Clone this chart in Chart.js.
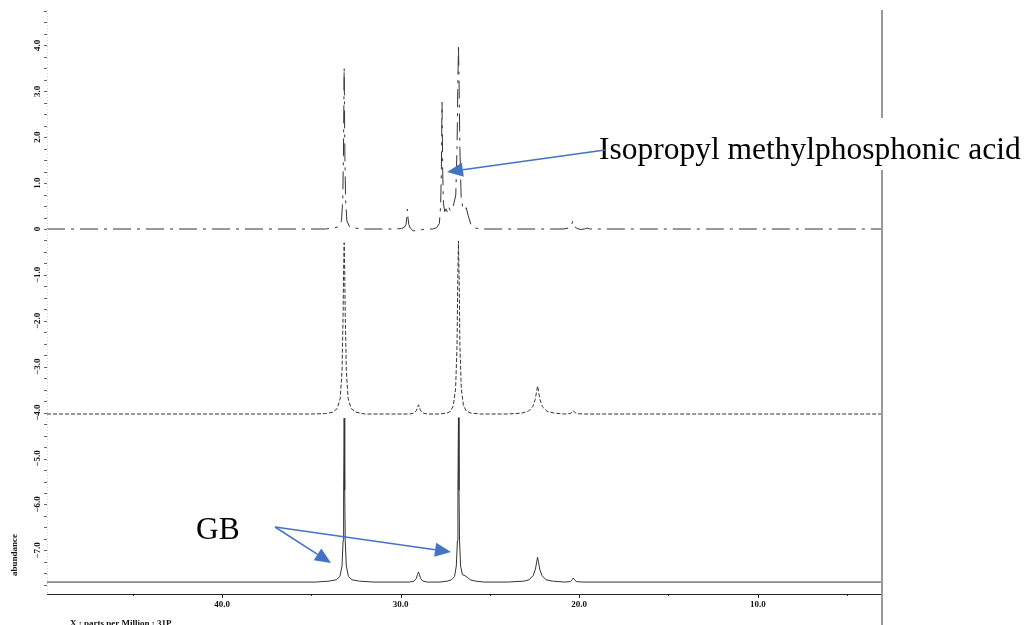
<!DOCTYPE html>
<html>
<head>
<meta charset="utf-8">
<script src="https://cdn.jsdelivr.net/npm/chart.js@4"></script>
<style>
  body { margin: 0; background: #fff; }
  #wrap { width: 1030px; height: 625px; }
</style>
</head>
<body>
<div id="wrap"><canvas id="nmr" width="1030" height="625"></canvas></div>
<script>
'use strict';

// 31P NMR, three stacked traces (ppm, abundance above each trace baseline)
var topPpm = [49.8, 34.2, 33.76, 33.46, 33.31, 33.24, 33.2, 33.16, 33.12, 33.08, 33.01, 32.86, 32.56, 32.1, 30.4, 29.95, 29.78, 29.7, 29.66, 29.62, 29.58, 29.54, 29.46, 29.3, 29.0, 28.6, 28.2, 27.98, 27.83, 27.76, 27.72, 27.68, 27.64, 27.6, 27.53, 27.45, 27.38, 27.3, 27.22, 27.14, 27.05, 26.91, 26.84, 26.8, 26.76, 26.72, 26.68, 26.61, 26.5, 26.4, 26.32, 26.22, 26.05, 25.8, 25.5, 24.5, 20.9, 20.6, 20.45, 20.4, 20.37, 20.33, 20.27, 20.15, 19.95, 19.7, 19.55, 19.4, 3.1];
var topAbund = [0, 0, 0.02, 0.05, 0.18, 0.64, 1.6, 3.52, 1.6, 0.64, 0.18, 0.05, 0.02, 0, 0, 0.01, 0.04, 0.1, 0.22, 0.43, 0.22, 0.1, 0.02, -0.04, -0.03, 0, 0, 0.03, 0.12, 0.5, 1.2, 2.76, 1.2, 0.55, 0.38, 0.44, 0.36, 0.47, 0.4, 0.42, 0.5, 0.74, 1.75, 3.0, 4.02, 3.0, 1.75, 0.7, 0.42, 0.45, 0.46, 0.3, 0.08, 0.02, 0, 0, 0, 0.02, 0.06, 0.12, 0.17, 0.12, 0.06, 0.02, -0.01, 0, 0.02, 0, 0];
var topBase = 0;

var midPpm = [49.8, 35.0, 34.2, 33.8, 33.55, 33.38, 33.28, 33.22, 33.19, 33.16, 33.13, 33.1, 33.04, 32.94, 32.77, 32.5, 32.0, 30.5, 29.5, 29.25, 29.12, 29.05, 29.0, 28.95, 28.88, 28.75, 28.5, 27.8, 27.4, 27.2, 27.05, 26.92, 26.84, 26.8, 26.76, 26.72, 26.68, 26.6, 26.48, 26.31, 26.05, 25.5, 24.0, 23.2, 22.85, 22.6, 22.46, 22.38, 22.33, 22.28, 22.2, 22.06, 21.8, 21.4, 20.8, 20.5, 20.4, 20.33, 20.26, 20.15, 19.8, 3.1];
var midAbund = [0, 0, 0.01, 0.04, 0.12, 0.34, 0.94, 2.16, 3.15, 3.73, 3.15, 2.16, 0.94, 0.34, 0.12, 0.04, 0, 0, 0, 0.02, 0.07, 0.15, 0.2, 0.15, 0.07, 0.02, 0, 0, 0.02, 0.06, 0.18, 0.55, 1.5, 2.9, 3.77, 2.9, 1.5, 0.55, 0.18, 0.06, 0.02, 0, 0, 0.02, 0.06, 0.16, 0.32, 0.5, 0.61, 0.5, 0.32, 0.16, 0.06, 0.02, 0, 0.01, 0.04, 0.07, 0.04, 0.01, 0, 0];
var midBase = -4.03;

var botPpm = [49.8, 34.8, 34.0, 33.6, 33.4, 33.28, 33.22, 33.19, 33.16, 33.13, 33.1, 33.04, 32.92, 32.72, 32.3, 31.5, 29.5, 29.25, 29.12, 29.05, 29.0, 28.95, 28.88, 28.75, 28.5, 27.8, 27.4, 27.15, 26.98, 26.88, 26.82, 26.79, 26.76, 26.73, 26.7, 26.64, 26.54, 26.4, 26.25, 26.1, 25.8, 25.3, 24.0, 23.1, 22.8, 22.58, 22.45, 22.38, 22.33, 22.28, 22.21, 22.08, 21.86, 21.5, 20.8, 20.5, 20.4, 20.33, 20.26, 20.15, 19.8, 3.1];
var botAbund = [0, 0, 0.02, 0.05, 0.12, 0.35, 0.9, 2.0, 3.57, 2.0, 0.9, 0.35, 0.12, 0.05, 0.02, 0, 0, 0.02, 0.08, 0.17, 0.22, 0.17, 0.08, 0.02, 0, 0, 0.02, 0.05, 0.12, 0.35, 0.9, 2.0, 3.58, 2.0, 0.9, 0.35, 0.16, 0.14, 0.1, 0.05, 0.02, 0, 0, 0.02, 0.05, 0.14, 0.28, 0.44, 0.54, 0.44, 0.28, 0.14, 0.05, 0.02, 0, 0.01, 0.05, 0.09, 0.05, 0.01, 0, 0];
var botBase = -7.69;

var xTicks = [40, 30, 20, 10];
var xTickLabels = ['40.0', '30.0', '20.0', '10.0'];
var yTicks = [4, 3, 2, 1, 0, -1, -2, -3, -4, -5, -6, -7];
var yTickLabels = ['4.0', '3.0', '2.0', '1.0', '0', '\u22121.0', '\u22122.0', '\u22123.0', '\u22124.0', '\u22125.0', '\u22126.0', '\u22127.0'];

var xMin = 3.1, xMax = 49.8;
var yMin = -7.95, yMax = 4.77;

function trace(ppm, abund, base) {
    var pts = [];
    for (var i = 0; i < ppm.length; i++) {
        pts.push({ x: ppm[i], y: abund[i] + base });
    }
    return pts;
}

var serif = '"Liberation Serif", "Times New Roman", serif';
var blue = '#4472c4';

function arrow(ctx, x1, y1, x2, y2) {
    var a = Math.atan2(y2 - y1, x2 - x1);
    var len = 16, half = 7;
    var bx = x2 - len * Math.cos(a), by = y2 - len * Math.sin(a);
    ctx.strokeStyle = blue;
    ctx.fillStyle = blue;
    ctx.lineWidth = 1.5;
    ctx.beginPath();
    ctx.moveTo(x1, y1);
    ctx.lineTo(bx, by);
    ctx.stroke();
    ctx.beginPath();
    ctx.moveTo(x2, y2);
    ctx.lineTo(bx + half * Math.sin(a), by - half * Math.cos(a));
    ctx.lineTo(bx - half * Math.sin(a), by + half * Math.cos(a));
    ctx.closePath();
    ctx.fill();
}

var decor = {
    id: 'decor',
    afterDraw: function (chart) {
        var ctx = chart.ctx;
        var xs = chart.scales.x, ys = chart.scales.y;
        var area = chart.chartArea;
        ctx.save();

        // faint left axis
        ctx.strokeStyle = '#d0d0d0';
        ctx.lineWidth = 1;
        ctx.setLineDash([1, 2]);
        ctx.beginPath();
        ctx.moveTo(area.left + 0.5, area.top);
        ctx.lineTo(area.left + 0.5, area.bottom);
        ctx.stroke();
        ctx.setLineDash([]);

        // y minor ticks
        ctx.strokeStyle = '#666';
        for (var v = -7.75; v <= 4.76; v += 0.25) {
            var py = Math.round(ys.getPixelForValue(v)) + 0.5;
            ctx.beginPath();
            ctx.moveTo(area.left - 3, py);
            ctx.lineTo(area.left, py);
            ctx.stroke();
        }

        // y tick labels, rotated
        ctx.fillStyle = '#111';
        ctx.font = 'bold 9px ' + serif;
        ctx.textAlign = 'center';
        ctx.textBaseline = 'middle';
        for (var i = 0; i < yTicks.length; i++) {
            ctx.save();
            ctx.translate(38, ys.getPixelForValue(yTicks[i]));
            ctx.rotate(-Math.PI / 2);
            ctx.fillText(yTickLabels[i], 0, 0);
            ctx.restore();
        }
        ctx.save();
        ctx.translate(15, 555);
        ctx.rotate(-Math.PI / 2);
        ctx.font = 'bold 9px ' + serif;
        ctx.fillText('abundance', 0, 0);
        ctx.restore();

        // x axis
        ctx.strokeStyle = '#222';
        ctx.lineWidth = 1;
        ctx.beginPath();
        ctx.moveTo(area.left, area.bottom + 0.5);
        ctx.lineTo(area.right, area.bottom + 0.5);
        ctx.stroke();
        for (var t = 5; t < xMax; t += 5) {
            var px = Math.round(xs.getPixelForValue(t)) + 0.5;
            var major = t % 10 === 0;
            ctx.beginPath();
            ctx.moveTo(px, area.bottom);
            ctx.lineTo(px, area.bottom + (major ? 4 : 2));
            ctx.stroke();
        }
        ctx.font = 'bold 9px ' + serif;
        ctx.textBaseline = 'middle';
        for (var j = 0; j < xTicks.length; j++) {
            ctx.fillText(xTickLabels[j], xs.getPixelForValue(xTicks[j]), 605);
        }
        ctx.textAlign = 'left';
        ctx.textBaseline = 'top';
        ctx.fillText('X : parts per Million : 31P', 70, 619);

        // right frame line with gap for the label
        ctx.strokeStyle = '#999';
        ctx.lineWidth = 2;
        ctx.beginPath();
        ctx.moveTo(area.right + 1, 10);
        ctx.lineTo(area.right + 1, 118);
        ctx.moveTo(area.right + 1, 170);
        ctx.lineTo(area.right + 1, 625);
        ctx.stroke();

        // annotations
        ctx.fillStyle = '#000';
        ctx.font = '31.5px ' + serif;
        ctx.textAlign = 'left';
        ctx.textBaseline = 'alphabetic';
        ctx.fillText('Isopropyl methylphosphonic acid', 599, 159);
        ctx.fillText('GB', 196, 539);

        arrow(ctx, 605, 150, 447, 172);
        arrow(ctx, 275, 527, 331, 563);
        arrow(ctx, 275, 527, 451, 552);

        ctx.restore();
    }
};

var ctx = document.getElementById('nmr').getContext('2d');
var nmrChart = new Chart(ctx, {
    type: 'scatter',
    data: {
        datasets: [{
            label: 'top',
            data: trace(topPpm, topAbund, topBase),
            borderColor: '#333',
            borderWidth: 1,
            borderDash: [18, 6, 3, 6],
            showLine: true,
            pointRadius: 0,
            tension: 0
        }, {
            label: 'middle',
            data: trace(midPpm, midAbund, midBase),
            borderColor: '#333',
            borderWidth: 1,
            borderDash: [4, 2],
            showLine: true,
            pointRadius: 0,
            tension: 0
        }, {
            label: 'bottom',
            data: trace(botPpm, botAbund, botBase),
            borderColor: '#333',
            borderWidth: 1,
            showLine: true,
            pointRadius: 0,
            tension: 0
        }]
    },
    options: {
        responsive: false,
        animation: false,
        layout: { padding: { left: 47, right: 149, top: 10, bottom: 31 } },
        plugins: { legend: { display: false }, tooltip: { enabled: false } },
        scales: {
            x: { type: 'linear', reverse: true, min: xMin, max: xMax, display: false },
            y: { min: yMin, max: yMax, display: false }
        }
    },
    plugins: [decor]
});
</script>
</body>
</html>
